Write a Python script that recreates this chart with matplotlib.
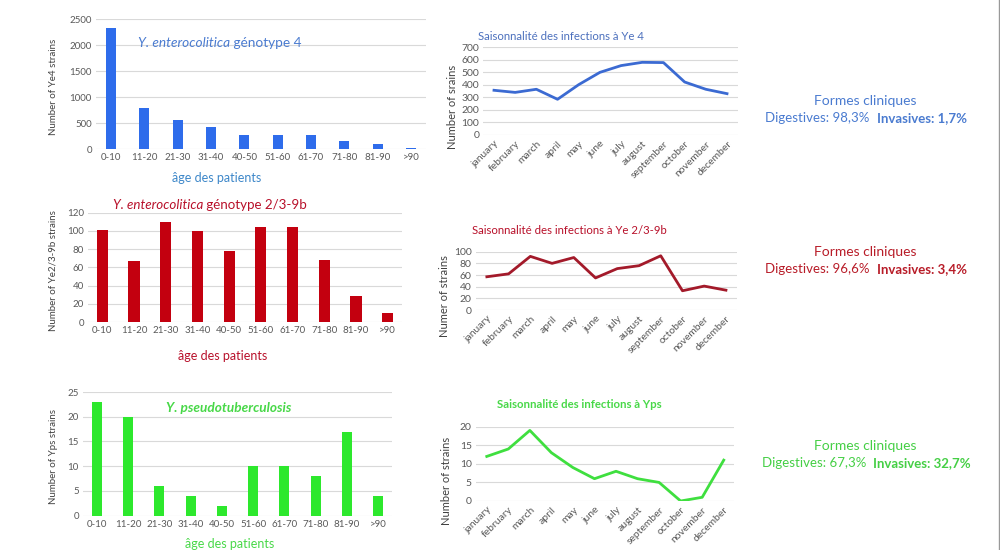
import matplotlib
matplotlib.use('Agg')
from matplotlib import pyplot as plt
from matplotlib.lines import Line2D

plt.rcParams['font.family'] = ['Lato', 'DejaVu Sans']

# classes d'age
ages = ['0-10', '11-20', '21-30', '31-40', '40-50', '51-60', '61-70', '71-80', '81-90', '>90']
ye4_age = [2330, 780, 565, 420, 260, 260, 270, 160, 95, 15]
ye2_age = [101, 67, 110, 100, 78, 104, 104, 68, 29, 10]
yps_age = [23, 20, 6, 4, 2, 10, 10, 8, 17, 4]

# saisonnalite
months = ['january', 'february', 'march', 'april', 'may', 'june', 'july',
          'august', 'september', 'october', 'november', 'december']
ye4_month = [357, 340, 365, 285, 402, 500, 554, 580, 578, 423, 365, 330]
ye2_month = [57, 62, 92, 80, 90, 55, 71, 76, 93, 33, 41, 34]
yps_month = [12, 14, 19, 13, 9, 6, 8, 6, 5, 0, 1, 11]

W, H = 1000, 550
fig = plt.figure(figsize=(10, 5.5), dpi=100)
fig.patch.set_facecolor('white')
renderer = fig.canvas.get_renderer()


def px_axes(left, right, bottom, top):
    return fig.add_axes([left / W, 1 - bottom / H, (right - left) / W, (bottom - top) / H])


def ftext(x, y, s, **kw):
    return fig.text(x / W, 1 - y / H, s, **kw)


def ftext_parts(x, y, parts, ha='left', gap=0):
    """texte en plusieurs morceaux (styles differents) sur une ligne"""
    texts = [ftext(0, y, s, va='center', **kw) for s, kw in parts]
    widths = [t.get_window_extent(renderer).width for t in texts]
    total = sum(widths) + gap * (len(parts) - 1)
    x0 = x - total / 2 if ha == 'center' else x
    for t, w in zip(texts, widths):
        t.set_x(x0 / W)
        x0 += w + gap


def style(ax, ymax, step, fs=7):
    for sp in ax.spines.values():
        sp.set_visible(False)
    ax.set_ylim(0, ymax)
    ax.set_yticks(range(0, ymax + 1, step))
    ax.yaxis.grid(True, color='#d9d9d9', lw=0.8)
    ax.set_axisbelow(True)
    ax.tick_params(length=0, labelsize=fs, colors='#595959', pad=3)


def bar_chart(box, vals, ymax, step, color, width):
    ax = px_axes(*box)
    ax.bar(range(len(ages)), vals, width=width, color=color)
    ax.set_xlim(-0.45, len(ages) - 0.55)
    ax.set_xticks(range(len(ages)))
    ax.set_xticklabels(ages)
    style(ax, ymax, step)
    return ax


def line_chart(box, vals, ymax, step, color):
    ax = px_axes(*box)
    ax.plot(range(12), vals, color=color, lw=2)
    ax.set_xlim(-0.5, 11.5)
    ax.set_xticks(range(12))
    ax.set_xticklabels(months, rotation=45, ha='right', rotation_mode='anchor')
    style(ax, ymax, step, fs=7.5)
    return ax


# Ye4
bar_chart((96, 426, 149, 19), ye4_age, 2500, 500, '#2e6ceb', 0.3)
ftext_parts(138, 43, [('Y. enterocolitica', dict(color='#4a7bd0', fontsize=9.8, style='italic')),
                      (' génotype 4', dict(color='#4a7bd0', fontsize=9.8))])
ftext(217, 178, 'âge des patients', color='#3d87c9', fontsize=9, ha='center', va='center')
ftext(53, 87, 'Number of Ye4 strains', color='#404040', fontsize=7, rotation=90, ha='center', va='center')

# Ye2/3-9b
bar_chart((88, 402, 322, 212.7), ye2_age, 120, 20, '#c3000f', 0.35)
ftext_parts(210, 205, [('Y. enterocolitica', dict(color='#b8102a', fontsize=9.6, style='italic')),
                       (' génotype 2/3-9b', dict(color='#b8102a', fontsize=9.6))], ha='center')
ftext(223, 356, 'âge des patients', color='#b8102a', fontsize=9, ha='center', va='center')
ftext(53, 271, 'Number of Ye2/3-9b strains', color='#404040', fontsize=7, rotation=90, ha='center', va='center')

# Yps
bar_chart((83, 392, 515.7, 392), yps_age, 25, 5, '#2de82d', 0.32)
ftext(229, 408, 'Y. pseudotuberculosis', color='#48d848', fontsize=9.8, style='italic',
      fontweight='bold', ha='center', va='center')
ftext(230, 544, 'âge des patients', color='#48d848', fontsize=9, ha='center', va='center')
ftext(53, 457, 'Number of Yps strains', color='#404040', fontsize=7, rotation=90, ha='center', va='center')

# saisonnalite
line_chart((483.4, 737.6, 135, 47.3), ye4_month, 700, 100, '#3b6ad2')
ftext(478, 36, 'Saisonnalité des infections à Ye 4', color='#4c70bd', fontsize=8.2, va='center')
ftext(452, 107, 'Number of srains', color='#404040', fontsize=8, rotation=90, ha='center', va='center')

line_chart((476, 736.8, 310, 251.7), ye2_month, 100, 20, '#a31a2a')
ftext(472, 231, 'Saisonnalité des infections à Ye 2/3-9b', color='#b8102a', fontsize=8.2, va='center')
ftext(444, 296, 'Numer of strains', color='#404040', fontsize=8, rotation=90, ha='center', va='center')

line_chart((476, 734.5, 501, 426.7), yps_month, 20, 5, '#3fdf3f')
ftext(579, 404, 'Saisonnalité des infections à Yps', color='#48d848', fontsize=8.2,
      fontweight='bold', ha='center', va='center')
ftext(447, 481, 'Number of strains', color='#404040', fontsize=8, rotation=90, ha='center', va='center')

# formes cliniques
blocks = [(101, 118, '#4a7bd0', '98,3%', '1,7%'),
          (252, 269, '#b81c28', '96,6%', '3,4%'),
          (446, 463, '#45cf45', '67,3%', '32,7%')]
for y1, y2, c, dig, inv in blocks:
    ftext(865, y1, 'Formes cliniques', color=c, fontsize=10, ha='center', va='center')
    ftext_parts(866, y2, [('Digestives: ' + dig, dict(color=c, fontsize=9.5)),
                          ('Invasives: ' + inv, dict(color=c, fontsize=9.5, fontweight='bold'))],
                ha='center', gap=7)

fig.add_artist(Line2D([0.999, 0.999], [0, 1], transform=fig.transFigure, color='#999999', lw=1))

fig.savefig('out.png', dpi=100, facecolor='white')
